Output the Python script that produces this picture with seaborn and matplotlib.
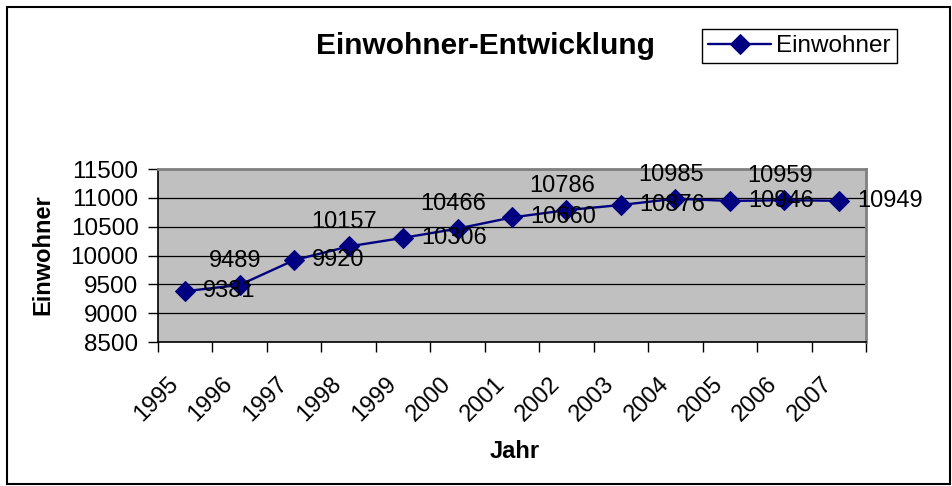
import numpy as np
import pandas as pd
import matplotlib
matplotlib.use("Agg")
import matplotlib.pyplot as plt
import matplotlib.transforms as mtransforms
from matplotlib.patches import Rectangle
import seaborn as sns

years = ["1995", "1996", "1997", "1998", "1999", "2000", "2001",
         "2002", "2003", "2004", "2005", "2006", "2007"]
einwohner = [9381, 9489, 9920, 10157, 10306, 10466, 10660,
             10786, 10876, 10985, 10946, 10959, 10949]
y_ticks = [8500, 9000, 9500, 10000, 10500, 11000, 11500]

sns.set_theme(style="white")
plt.rcParams["font.family"] = ["Liberation Sans", "DejaVu Sans"]
plt.rcParams["text.color"] = "black"
plt.rcParams["axes.labelcolor"] = "black"
plt.rcParams["xtick.color"] = "black"
plt.rcParams["ytick.color"] = "black"

W, H = 952, 486
fig = plt.figure(figsize=(W / 100, H / 100), dpi=100)
fig.patch.set_facecolor("white")

left, right, top, bottom = 158, 866, 169, 342
ax = fig.add_axes([left / W, 1 - bottom / H, (right - left) / W, (bottom - top) / H])
ax.set_facecolor("#C0C0C0")

df = pd.DataFrame({"pos": np.arange(len(years)), "Einwohner": einwohner})
sns.lineplot(data=df, x="pos", y="Einwohner", ax=ax, color="#000080",
             marker="D", markersize=10, markeredgecolor="#000080",
             linewidth=1.7, label="Einwohner", legend=False, zorder=5)

ax.set_xlim(-0.5, len(years) - 0.5)
ax.set_ylim(y_ticks[0], y_ticks[-1])
ax.set_yticks(y_ticks)
ax.set_yticklabels([str(v) for v in y_ticks], fontsize=17.5, color="black")
ax.yaxis.grid(True, color="black", linewidth=0.9)
ax.set_axisbelow(True)

ax.set_xticks(np.arange(len(years)))
ax.set_xticklabels(years, fontsize=17, rotation=45, ha="right",
                   va="center", rotation_mode="anchor", color="black")
ax.set_xticks(np.arange(len(years) + 1) - 0.5, minor=True)
ax.tick_params(axis="x", which="major", length=0, pad=0)
ax.tick_params(axis="x", which="minor", length=7, width=1, color="black",
               direction="out", bottom=True)
ax.tick_params(axis="y", which="major", length=7, width=1, color="black",
               direction="out", left=True, pad=7)
off = mtransforms.ScaledTranslation(-10 / 100, -39 / 100, fig.dpi_scale_trans)
for lab in ax.get_xticklabels():
    lab.set_transform(lab.get_transform() + off)

for side in ["left", "bottom"]:
    ax.spines[side].set_color("black")
    ax.spines[side].set_linewidth(1.2)
for side in ["top", "right"]:
    ax.spines[side].set_color("#808080")
    ax.spines[side].set_linewidth(2)

ax.set_xlabel("Jahr", fontsize=17, fontweight="bold", labelpad=0, color="black")
ax.xaxis.set_label_coords(((515) - left) / (right - left), -(451 - bottom) / (bottom - top))
ax.xaxis.label.set_va("center")
ax.set_ylabel("Einwohner", fontsize=17, fontweight="bold", color="black")
ax.yaxis.set_label_coords((43 - left) / (right - left), (bottom - 255) / (bottom - top))
ax.yaxis.label.set_va("center")

# data labels
for i, v in enumerate(einwohner):
    if i % 2 == 0:
        ax.annotate(str(v), (i, v), xytext=(13, 0), textcoords="offset points",
                    ha="left", va="center", fontsize=17, color="black", zorder=6)
    else:
        ax.annotate(str(v), (i, v), xytext=(-3, 9.5), textcoords="offset points",
                    ha="center", va="bottom", fontsize=17, color="black", zorder=6)

fig.text(485 / W, 1 - 46 / H, "Einwohner-Entwicklung", ha="center", va="center",
         fontsize=21.5, fontweight="bold", color="black")

handles, labels = ax.get_legend_handles_labels()
leg = fig.legend(handles, labels, loc="upper left",
                 bbox_to_anchor=(702 / W, 1 - 29 / H), fontsize=17.5,
                 frameon=True, fancybox=False, edgecolor="black",
                 framealpha=1, handlelength=2.6, handletextpad=0.2,
                 borderpad=0.25, borderaxespad=0)
leg.get_frame().set_linewidth(1.0)
for t in leg.get_texts():
    t.set_color("black")

fig.patches.append(Rectangle((7 / W, 2 / H), 943 / W, 477 / H,
                             transform=fig.transFigure, fill=False,
                             edgecolor="black", linewidth=1.5))

fig.savefig("out.png", dpi=100)
